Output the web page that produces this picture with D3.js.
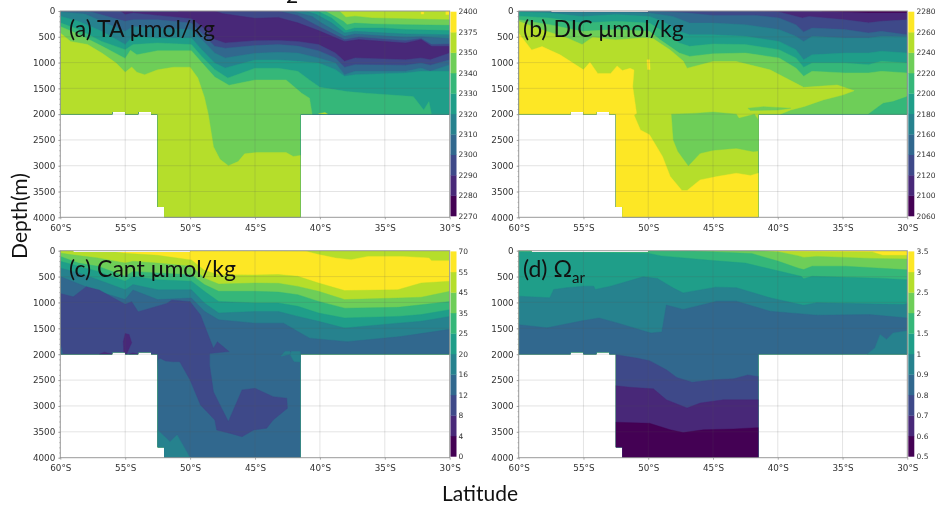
<!DOCTYPE html>
<html>
<head>
<meta charset="utf-8">
<style>
html,body{margin:0;padding:0;background:#fff}
svg{display:block;filter:blur(.45px)}
.tk text{font-family:"DejaVu Sans";font-size:8.8px;fill:#333}
.cb text{font-family:"DejaVu Sans";font-size:7.5px;fill:#333}
.title{font-family:Lato;font-size:23px;fill:#111}
.big{font-family:Lato;font-size:21px;fill:#111}
</style>
</head>
<body>
<script src="https://cdnjs.cloudflare.com/ajax/libs/d3/7.8.5/d3.min.js"></script>
<script>
const viridis10 = ["#440154","#482878","#3e4989","#31688e","#26828e","#1f9e89","#35b779","#6ece58","#b5de2b","#fde725"];
const latTicks = [60,55,50,45,40,35,30];
const depthTicks = [0,500,1000,1500,2000,2500,3000,3500,4000];
const depthMinor = d3.range(0,4001,100);
const taLabels = ["2270","2280","2290","2300","2310","2320","2330","2340","2350","2375","2400"];
const dicLabels = ["2060","2100","2120","2140","2160","2180","2200","2220","2240","2260","2280"];
const cantLabels = ["0","4","8","12","16","20","25","35","45","55","70"];
const omegaLabels = ["0.5","0.6","0.7","0.8","0.9","1","1.5","2","2.5","3","3.5"];

// ---- (a) TA: [band index, boundary as [latitude S, depth m]]; everything below a boundary takes the band
const taBase = 8;
const taContours = [
 [7,[[60,0],[38.5,0],[38,120],[37.3,100],[36,135],[33.4,150],[30,170]]],
 [6,[[60,0],[39.6,0],[38.2,200],[37.9,265],[37.3,235],[36,250],[33.4,265],[30,278]]],
 [5,[[60,0],[40.2,0],[39.1,135],[38.2,330],[38,380],[37.3,330],[35.2,330],[33.4,360],[30,380]]],
 [4,[[60,0],[41.1,0],[40.25,70],[39.1,230],[38.1,425],[37.3,395],[33.4,445],[30,460]]],
 [3,[[60,0],[42.2,0],[40.6,105],[39.9,230],[38.1,490],[37.3,445],[33.4,510],[32.2,500],[30,535]]],
 [2,[[60,0],[43.2,0],[41.7,85],[40.1,300],[38.1,555],[37,510],[33.4,575],[32.2,535],[31.4,650],[30,640]]],
 [1,[[60,0],[48.1,0],[47.5,50],[45,140],[43.2,125],[41.7,230],[40.1,380],[38.1,590],[37,555],[33.4,620],[32.2,555],[31.4,685],[30,685]]],
 [2,[[60,0],[55.4,0],[55,70],[54.4,40],[52.5,85],[49.9,150],[49.1,300],[48.1,555],[47.3,620],[45,575],[43.2,570],[41.7,590],[40.1,650],[38.8,815],[38.1,975],[37.3,910],[33.4,945],[32.2,910],[31.5,945],[30,815]]],
 [3,[[60,0],[57.6,20],[55,200],[54.4,170],[52.5,170],[49.9,235],[49.1,430],[48.1,685],[47.3,720],[45,670],[43.2,650],[41.7,680],[40.1,770],[38.8,910],[38.1,1090],[37.3,1040],[33.4,1050],[32.2,1010],[31.5,1050],[30,945]]],
 [4,[[60,20],[58.1,60],[56.8,200],[55,395],[54.4,300],[52.5,330],[49.9,360],[49.1,555],[48.1,815],[47.3,910],[45,820],[43.2,800],[41.7,815],[40.1,910],[38.8,1010],[38.1,1235],[37.3,1170],[33.4,1170],[32.2,1105],[31.5,1170],[30,1040]]],
 [5,[[60,100],[58.6,200],[56.8,395],[55,650],[54.4,490],[52.5,525],[49.9,525],[49.1,750],[48.1,1010],[47.3,1105],[45,950],[43.2,950],[41.7,975],[40.1,1010],[38.8,1135],[38.1,1265],[37.3,1235],[33.4,1200],[32.2,1170],[30,1170]]],
 [6,[[60,230],[58.6,360],[56.8,590],[55,750],[54.4,650],[52.5,620],[49.9,650],[49.1,880],[48.1,1135],[47.1,1300],[45,1110],[43.2,1110],[41.7,1170],[40.8,1337],[40,1480],[37.9,1563],[36.4,1595],[32.8,1660],[32,1920],[31.6,1757],[31.4,2000],[30,2000]]],
 [7,[[60,300],[58.6,450],[56.8,680],[55,920],[54.6,760],[54.1,850],[52.5,770],[49.9,770],[49.1,1000],[48.1,1280],[47,1440],[45,1337],[42.6,1337],[41.4,1595],[40.8,1690],[40.6,2000],[40.6,2100]]],
 [8,[[60,425],[59.2,590],[57.9,650],[56.8,815],[55.7,1010],[55,1190],[54.5,1085],[54.1,1190],[53.5,1235],[52.5,1140],[51.3,1090],[50,1090],[49.4,1300],[48.9,1670],[48.6,2000],[48.2,2630],[47.7,2875],[47.05,3000],[46.3,2920],[45.8,2770],[44.9,2745],[42.6,2745],[42.05,2820],[41.5,2800],[30,2800]]]
];
const taPatches = [
 [9,[[30,0],[30.3,0],[30.3,70],[30,70]]],
 [9,[[32.2,20],[32,20],[32,60],[32.2,60]]],
 [8,[[40.1,1990],[39.6,1970],[39.4,2000]]]
];
// ---- (b) DIC
const dicBase = 0;
const dicContours = [
 [1,[[60,0],[36.6,0],[36.6,10],[33,40],[30,40]]],
 [2,[[60,0],[42,0],[39.9,20],[38.1,135],[37.6,105],[34.8,170],[33,230],[32,200],[30,170]]],
 [3,[[60,0],[49.8,0],[46.9,40],[45,85],[41.7,85],[39.9,135],[38.6,265],[38,405],[37.35,330],[34.8,360],[33,425],[32,395],[30,460]]],
 [4,[[60,0],[52,0],[49.9,40],[48.1,105],[46.8,235],[45,235],[42.5,265],[39.9,360],[38.6,490],[38,590],[37.35,490],[34.8,525],[33,525],[32,490],[30,500]]],
 [5,[[60,20],[57.6,40],[55.1,105],[52.5,70],[49.9,105],[48.9,200],[47.6,395],[46.8,460],[45,460],[42.5,490],[39.9,590],[38.6,750],[38,945],[37.35,850],[34.8,815],[33,815],[32,780],[30,815]]],
 [6,[[60,100],[57.6,135],[55.1,235],[52.5,200],[49.9,235],[49.1,360],[47.6,620],[46.8,685],[45,640],[42.5,650],[39.9,750],[38.6,910],[38,1090],[37.35,1010],[34.8,1010],[33,1040],[32,975],[30,1010]]],
 [7,[[60,170],[57.6,265],[55.1,395],[52.5,360],[49.9,395],[49.1,555],[47.6,815],[46.8,880],[45,830],[42.5,815],[39.9,910],[38.6,1105],[38,1265],[37.35,1170],[34.8,1200],[33,1200],[32,1170],[30,1200]]],
 [8,[[60,200],[58.5,340],[56.3,520],[55.1,650],[54.3,510],[52.5,560],[50.4,520],[49.6,540],[48.3,755],[47.3,970],[47,1110],[45,980],[43.2,980],[40.6,1140],[38,1480],[35.4,1435],[34.1,1545],[35,1630],[36.5,1725],[38,1855],[39,1920],[39.8,2000],[40,2100]]],
 [9,[[60,430],[59,755],[58.2,690],[56.8,850],[55,1140],[54.5,995],[53.9,1210],[52.9,1210],[52.4,1065],[52,1155],[51.4,1110],[51.1,1145],[51.2,1465],[50.9,1985],[51.1,2015],[50.6,2305],[49.9,2400],[48.9,2820],[48.3,3210],[47.4,3480],[47,3480],[46,3275],[44.7,3210],[43.2,3145],[42.1,3190],[41.5,3145],[30,3145]]]
];
const dicPatches = [
 [7,[[48.2,2000],[48.06,2500],[47.7,2725],[46.9,3000],[46,2760],[45,2700],[43.2,2660],[41.9,2725],[41.4,2710],[41.4,2150],[41.8,2000],[43,2080],[43.2,2000],[45,1960],[46.5,1985]]],
 [6,[[33,2000],[32.2,1850],[31.85,1790],[31.1,1757],[30,1660],[30,2000]]],
 [7,[[42.3,1885],[41.1,1855],[39,1885],[40,1920],[42.1,1930]]],
 [9,[[50.1,945],[49.9,945],[49.85,1135],[50.05,1135]]]
];
// ---- (c) Cant
const cantBase = 8;
const cantContours = [
 [9,[[60,0],[41.1,10],[40.1,75],[38.8,140],[37.6,175],[36.3,110],[33.7,110],[31.6,140],[31.4,195],[30,195]]],
 [8,[[60,0],[56.5,0],[55,50],[52.5,90],[49.9,180],[48.9,380],[47.8,465],[45,470],[43.2,460],[41.7,495],[40.1,625],[38.1,770],[34,755],[32.2,625],[30,590]]],
 [7,[[60,45],[59.2,75],[57.1,140],[55,240],[54.4,205],[52.5,240],[49.9,300],[48.9,530],[47.8,645],[45,625],[43.2,630],[41.7,690],[40.1,785],[38.1,945],[34,915],[32.2,900],[30,785]]],
 [6,[[60,110],[58.6,240],[57.1,300],[55,495],[54.4,400],[52.5,430],[49.9,465],[48.9,655],[47.8,785],[45,785],[43.2,800],[41.7,850],[40.1,980],[38.1,1110],[34,1095],[32.2,1045],[30,980]]],
 [5,[[60,205],[58.6,300],[57.1,400],[55,590],[54.4,495],[52.5,560],[49.9,590],[48.9,785],[47.8,980],[45,1010],[43.2,1010],[41.7,1075],[40.1,1205],[38.1,1300],[34,1270],[32.2,1235],[30,1140]]],
 [4,[[60,335],[58.6,430],[57.1,560],[55,755],[54.4,655],[52.5,755],[49.9,755],[48.9,1010],[47.8,1205],[45,1175],[43.2,1175],[41.7,1270],[40.1,1365],[38.1,1495],[34,1400],[32.2,1365],[30,1270]]],
 [3,[[60,500],[58.6,640],[57.1,785],[55,945],[54.4,760],[52.5,945],[49.9,915],[48.9,1170],[47.8,1335],[45,1400],[42.8,1400],[40.8,1690],[37.9,1758],[33.8,1660],[30,1520]]]
];
const cantPatches = [
 [2,[[60,825],[59,890],[58,695],[57,760],[55,1037],[54.5,985],[54,1180],[51.8,1018],[51.4,953],[50,985],[49.2,1243],[48.2,1887],[47.9,1760],[47,1950],[48.5,1985],[48.5,2210],[48.2,2725],[47.7,2980],[47.05,3300],[46,2690],[45,2660],[43.6,2820],[42.55,2850],[42.5,3045],[43.6,3270],[44.1,3430],[45.1,3465],[46,3595],[46.9,3530],[47.95,3465],[48.1,3270],[49.2,2980],[50,2500],[50.8,2145],[51.3,2145],[51.9,2130],[52.3,2080],[52.5,2110],[53,4000],[60,4000]]],
 [3,[[60,1800],[59.8,2000],[60,2000]]],
 [1,[[55.1,1985],[55.15,1760],[55,1600],[54.7,1620],[54.5,1780],[54.9,2000]]],
 [1,[[57,2000],[56.6,1960],[56,2000]]],
 [1,[[54.7,2000],[54.4,1975],[54,2000]]],
 [4,[[52.5,3465],[51.55,3690],[51,3560],[50,4000],[52.5,4000]]],
 [4,[[42.3,2000],[42,2140],[41.5,2150],[41.5,1950],[42.2,1950]]],
 [4,[[43,2040],[42.7,1950],[42.3,1950],[42.3,2000]]]
];
// ---- (d) Omega aragonite
const omegaBase = 9;
const omegaContours = [
 [8,[[60,0],[32.7,25],[31.9,90],[30,90]]],
 [7,[[60,0],[41.5,0],[39.9,25],[38.4,100],[38,130],[37,110],[34.8,130],[32.7,150],[30,160]]],
 [6,[[60,0],[47,0],[42,55],[40,200],[38.4,340],[38,365],[37.35,300],[34.8,300],[30,370]]],
 [5,[[60,25],[50,50],[49,100],[45,190],[42.5,240],[40.4,365],[38.2,495],[38,540],[37.35,495],[32.2,530],[30,560]]],
 [4,[[60,880],[57.6,910],[57.3,750],[56.3,715],[55,685],[54.2,685],[54.1,750],[52.9,685],[50.4,505],[49.3,535],[48.1,715],[47.3,815],[44.8,705],[43.2,715],[40.6,910],[38,1055],[37,1005],[30.3,1040],[30,1020]]],
 [3,[[60,1430],[57.8,1490],[55,1350],[53.8,1300],[52.4,1395],[49.8,1590],[48.95,1570],[48.6,1050],[47.3,1135],[44.7,975],[43.2,975],[40.6,1170],[37,1245],[32.9,1235],[30,1300]]],
 [2,[[60,2010],[52.5,2010],[50.9,2075],[49.9,2125],[48.6,2300],[47.8,2450],[46.6,2540],[44.95,2495],[43.4,2475],[42.3,2400],[41.6,2430],[30,2430]]],
 [1,[[60,2610],[52.5,2610],[51.4,2640],[49.6,2670],[48.6,2880],[47,3040],[46,2945],[44.2,2880],[42.4,2880],[41.6,2880],[30,2880]]],
 [0,[[60,3315],[52.5,3315],[49.9,3335],[48.3,3460],[47.3,3515],[45.75,3460],[43.4,3445],[41.6,3420],[30,3420]]]
];
const omegaPatches = [
 [4,[[33.1,2000],[32.5,1880],[32.1,1620],[31.6,1715],[31.1,1590],[30,1545],[30,2000]]]
];
// white data gaps: top strip latitudes, bathymetry outline
const taGap = [54.4,50.9], dicGap = [57.5,50], cantGap = [59,50], omegaGap = [59,50];
const seaFloor = [[30,2000],[41.5,2000],[41.5,4000],[52,4000],[52,3800],[52.5,3800],[52.5,2000],[53,2000],[53,1960],[54,1960],[54,2000],[55,2000],[55,1960],[56,1960],[56,2000],[60,2000]];

// ---- layout
const W=936,H=506;
const svg=d3.select("body").append("svg").attr("width",W).attr("height",H);
svg.append("rect").attr("width",W).attr("height",H).attr("fill","#fff");
const panels=[
 {id:"a",x0:60.3,x1:449.7,y0:11,y1:217.3,base:taBase,cont:taContours,patch:taPatches,gap:taGap,gapD:12,labels:taLabels,cbx:450.5,lx:458.5},
 {id:"b",x0:518.7,x1:907.3,y0:11,y1:217.3,base:dicBase,cont:dicContours,patch:dicPatches,gap:dicGap,gapD:25,labels:dicLabels,cbx:908.3,lx:916.5},
 {id:"c",x0:60.3,x1:449.7,y0:250.7,y1:457.7,base:cantBase,cont:cantContours,patch:cantPatches,gap:cantGap,gapD:25,labels:cantLabels,cbx:450.5,lx:458.5},
 {id:"d",x0:518.7,x1:907.3,y0:250.7,y1:457.7,base:omegaBase,cont:omegaContours,patch:omegaPatches,gap:omegaGap,gapD:25,labels:omegaLabels,cbx:908.3,lx:916.5}
];
panels.forEach(p=>{
 const x=d3.scaleLinear().domain([60,30]).range([p.x0,p.x1]);
 const y=d3.scaleLinear().domain([0,4000]).range([p.y0,p.y1]);
 const line=d3.line().x(d=>x(d[0])).y(d=>y(d[1]));
 const g=svg.append("g");
 const outline=[[60,0],[p.gap[0],0],[p.gap[0],p.gapD],[p.gap[1],p.gapD],[p.gap[1],0],[30,0]].concat(seaFloor);
 g.append("clipPath").attr("id","c"+p.id).append("path").attr("d",line(outline)+"Z");
 const body=g.append("g").attr("clip-path",`url(#c${p.id})`);
 body.append("rect").attr("x",p.x0).attr("y",p.y0).attr("width",p.x1-p.x0).attr("height",p.y1-p.y0).attr("fill",viridis10[p.base]);
 const closed=p.cont.map(c=>[c[0],c[1].concat([[30,4000],[60,4000]])]).concat(p.patch);
 body.selectAll("path.band").data(closed).join("path").attr("class","band")
   .attr("d",d=>line(d[1])+"Z").attr("fill",d=>viridis10[d[0]]).attr("stroke",d=>viridis10[d[0]]).attr("stroke-width",.4);
 // grid
 const grid=g.append("g").attr("stroke","#555").attr("stroke-opacity",.18).attr("stroke-width",.9);
 grid.selectAll("line.v").data(latTicks).join("line").attr("class","v").attr("x1",d=>x(d)).attr("x2",d=>x(d)).attr("y1",p.y0).attr("y2",p.y1);
 grid.selectAll("line.h").data(depthTicks).join("line").attr("class","h").attr("x1",p.x0).attr("x2",p.x1).attr("y1",d=>y(d)).attr("y2",d=>y(d));
 // frame
 g.append("rect").attr("x",p.x0).attr("y",p.y0).attr("width",p.x1-p.x0).attr("height",p.y1-p.y0).attr("fill","none").attr("stroke","#999").attr("stroke-width",.9);
 // axes
 const ax=g.append("g").attr("class","tk").attr("transform",`translate(0,${p.y1})`)
   .call(d3.axisBottom(x).tickValues(latTicks).tickFormat(d=>d+"°S").tickSize(2).tickPadding(5));
 const ay=g.append("g").attr("class","tk").attr("transform",`translate(${p.x0},0)`)
   .call(d3.axisLeft(y).tickValues(depthTicks).tickFormat(d=>d).tickSize(2).tickPadding(3));
 g.append("g").attr("transform",`translate(${p.x0},0)`).call(d3.axisLeft(y).tickValues(depthMinor).tickFormat("").tickSize(1.2))
   .call(s=>s.select(".domain").remove()).selectAll("line").attr("stroke","#888").attr("stroke-width",.5);
 [ax,ay].forEach(a=>{a.select(".domain").remove();a.selectAll("line").attr("stroke","#888").attr("stroke-width",.7);});
 // colour bar
 const cb=g.append("g").attr("class","cb");
 const cy0=p.y0+.7,cy1=p.y1-1.3;
 const band=d3.scaleBand().domain(d3.range(10)).range([cy1,cy0]);
 cb.selectAll("rect").data(viridis10).join("rect").attr("x",p.cbx).attr("width",6)
   .attr("y",(d,i)=>band(i)).attr("height",band.bandwidth()+.3).attr("fill",d=>d);
 const lab=d3.scaleLinear().domain([0,p.labels.length-1]).range([cy1,cy0]);
 cb.selectAll("text").data(p.labels).join("text").attr("x",p.lx).attr("y",(d,i)=>lab(i)+2.7).text(d=>d);
});
// text
const tt=svg.append("g");
const titles=[["(a) TA μmol/kg",69,37],["(b) DIC μmol/kg",523,37],["(c) Cant μmol/kg",69,277]];
titles.forEach(t=>tt.append("text").attr("class","title").attr("x",t[1]).attr("y",t[2]).text(t[0]));
const om=tt.append("text").attr("class","title").attr("x",523).attr("y",277);
om.append("tspan").text("(d) Ω");
om.append("tspan").attr("dy",6).attr("font-size",15).text("ar");
tt.append("text").attr("class","big").attr("transform","translate(27,216) rotate(-90)").attr("text-anchor","middle").text("Depth(m)");
tt.append("text").attr("class","big").attr("x",480).attr("y",501).attr("text-anchor","middle").text("Latitude");
tt.append("text").attr("class","big").attr("x",286).attr("y",3).text("2");
</script>
</body>
</html>
